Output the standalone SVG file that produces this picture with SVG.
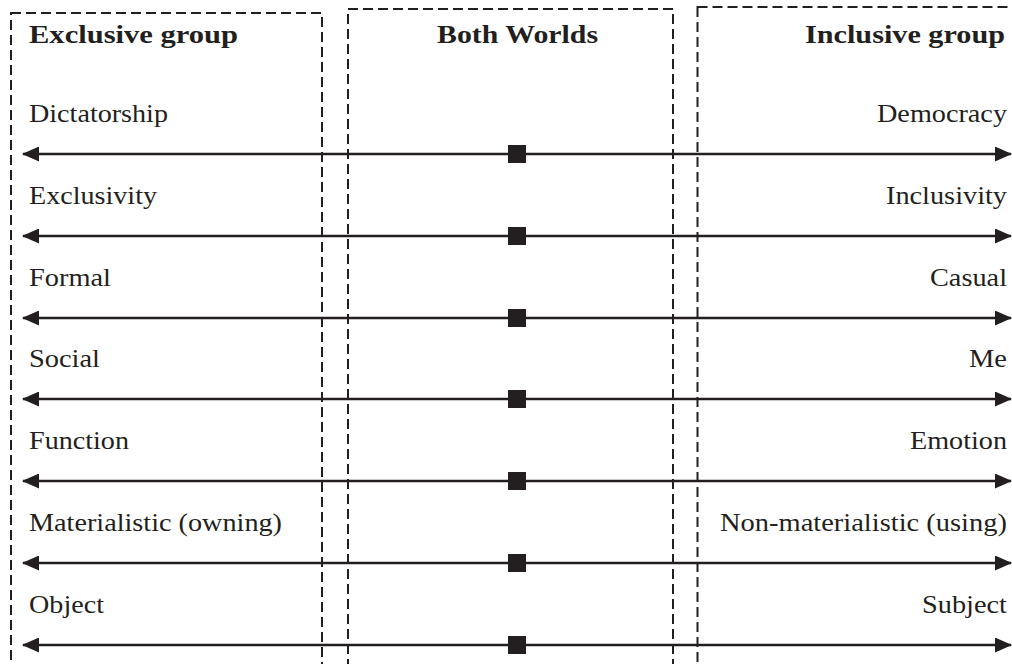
<svg xmlns="http://www.w3.org/2000/svg" width="1012" height="664" viewBox="0 0 1012 664">
<style>
.box{fill:none;stroke:#231f20;stroke-width:2;stroke-dasharray:10 5}
.hdr{font-family:'Liberation Serif','Times New Roman',serif;font-weight:bold;font-size:26px;fill:#231f20}
.lbl{font-family:'Liberation Serif','Times New Roman',serif;font-size:26px;fill:#231f20}
.ax{stroke:#231f20;stroke-width:2.4;fill:none;marker-start:url(#ah);marker-end:url(#ah)}
.sq{fill:#231f20}
</style>
<defs>
<marker id="ah" viewBox="0 0 17 15" refX="16" refY="7.5" markerWidth="17" markerHeight="15" markerUnits="userSpaceOnUse" orient="auto-start-reverse">
<path d="M0,0 L17,7.5 L0,15 Z" fill="#231f20"/>
</marker>
</defs>
<g id="exclusive-group">
<rect class="box" x="11" y="13" width="311" height="680"/>
<text class="hdr" x="29" y="43" textLength="209" lengthAdjust="spacingAndGlyphs">Exclusive group</text>
</g>
<g id="both-worlds">
<rect class="box" x="348" y="9" width="325" height="680"/>
<text class="hdr" x="437" y="43" textLength="161" lengthAdjust="spacingAndGlyphs">Both Worlds</text>
</g>
<g id="inclusive-group">
<rect class="box" x="697.5" y="7" width="330" height="680"/>
<text class="hdr" x="1005" y="43" text-anchor="end" textLength="200" lengthAdjust="spacingAndGlyphs">Inclusive group</text>
</g>
<g id="left-labels">
<text class="lbl" x="29" y="122" textLength="139" lengthAdjust="spacingAndGlyphs">Dictatorship</text>
<text class="lbl" x="29" y="204" textLength="128" lengthAdjust="spacingAndGlyphs">Exclusivity</text>
<text class="lbl" x="29" y="286" textLength="82" lengthAdjust="spacingAndGlyphs">Formal</text>
<text class="lbl" x="29" y="367" textLength="71" lengthAdjust="spacingAndGlyphs">Social</text>
<text class="lbl" x="29" y="449" textLength="100" lengthAdjust="spacingAndGlyphs">Function</text>
<text class="lbl" x="29" y="531" textLength="253" lengthAdjust="spacingAndGlyphs">Materialistic (owning)</text>
<text class="lbl" x="29" y="613" textLength="75" lengthAdjust="spacingAndGlyphs">Object</text>
</g>
<g id="right-labels">
<text class="lbl" x="1007" y="122" text-anchor="end" textLength="130" lengthAdjust="spacingAndGlyphs">Democracy</text>
<text class="lbl" x="1007" y="204" text-anchor="end" textLength="121" lengthAdjust="spacingAndGlyphs">Inclusivity</text>
<text class="lbl" x="1007" y="286" text-anchor="end" textLength="77" lengthAdjust="spacingAndGlyphs">Casual</text>
<text class="lbl" x="1007" y="367" text-anchor="end" textLength="38" lengthAdjust="spacingAndGlyphs">Me</text>
<text class="lbl" x="1007" y="449" text-anchor="end" textLength="97" lengthAdjust="spacingAndGlyphs">Emotion</text>
<text class="lbl" x="1007" y="531" text-anchor="end" textLength="287" lengthAdjust="spacingAndGlyphs">Non-materialistic (using)</text>
<text class="lbl" x="1007" y="613" text-anchor="end" textLength="85" lengthAdjust="spacingAndGlyphs">Subject</text>
</g>
<g id="connectors">
<line class="ax" x1="23" y1="154" x2="1011" y2="154"/>
<line class="ax" x1="23" y1="236" x2="1011" y2="236"/>
<line class="ax" x1="23" y1="318" x2="1011" y2="318"/>
<line class="ax" x1="23" y1="399" x2="1011" y2="399"/>
<line class="ax" x1="23" y1="481" x2="1011" y2="481"/>
<line class="ax" x1="23" y1="563" x2="1011" y2="563"/>
<line class="ax" x1="23" y1="645" x2="1011" y2="645"/>
</g>
<g id="markers">
<rect class="sq" x="508" y="145" width="18" height="18"/>
<rect class="sq" x="508" y="227" width="18" height="18"/>
<rect class="sq" x="508" y="309" width="18" height="18"/>
<rect class="sq" x="508" y="390" width="18" height="18"/>
<rect class="sq" x="508" y="472" width="18" height="18"/>
<rect class="sq" x="508" y="554" width="18" height="18"/>
<rect class="sq" x="508" y="636" width="18" height="18"/>
</g>
</svg>
